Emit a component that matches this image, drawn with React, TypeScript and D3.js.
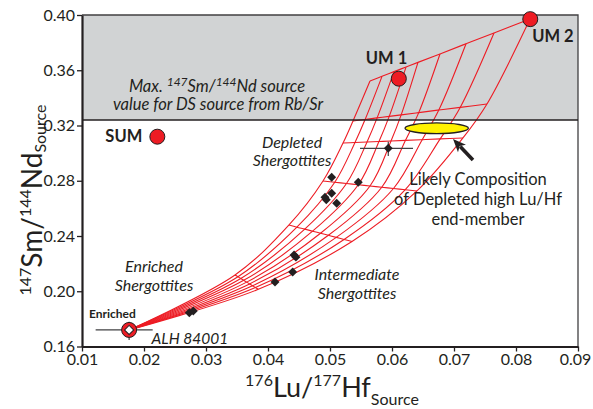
import { useEffect, useRef } from 'react';
import * as d3 from 'd3';

const W = 593, H = 409;
const M = { top: 15, right: 15, bottom: 62.5, left: 82 };
const X_TICKS = [0.01, 0.02, 0.03, 0.04, 0.05, 0.06, 0.07, 0.08, 0.09];
const Y_TICKS = [0.16, 0.20, 0.24, 0.28, 0.32, 0.36, 0.40];
const DS_MAX = 0.324; // max 147Sm/144Nd for DS source from Rb/Sr

// mixing grid, nodes: one list per constant-fraction line, top (end-members) to bottom
const MIX_L1 = [[0.05645, 0.3522], [0.05839, 0.3556], [0.06032, 0.3590], [0.06226, 0.3623], [0.06419, 0.3657], [0.06774, 0.3718], [0.07194, 0.3792], [0.07645, 0.3870], [0.08226, 0.3971]];
const MIX_L2 = [[0.05371, 0.3233], [0.05566, 0.3243], [0.0576, 0.3255], [0.05955, 0.3266], [0.06148, 0.3277], [0.06431, 0.3293], [0.06755, 0.3312], [0.071, 0.3331], [0.07532, 0.3356]];
const MIX_L3 = [[0.0521, 0.3073], [0.05403, 0.3077], [0.05597, 0.3081], [0.0579, 0.3084], [0.05984, 0.3088], [0.06216, 0.3092], [0.06487, 0.3097], [0.06777, 0.3103], [0.07145, 0.3110]];
const MIX_L4 = [[0.04887, 0.2798], [0.05077, 0.2789], [0.05266, 0.2780], [0.05456, 0.2771], [0.05645, 0.2762], [0.05835, 0.2753], [0.06024, 0.2744], [0.06214, 0.2735], [0.06403, 0.2726]];
const MIX_L5 = [[0.04339, 0.2480], [0.04466, 0.2464], [0.04593, 0.2450], [0.04719, 0.2435], [0.04847, 0.2420], [0.04974, 0.2405], [0.05101, 0.2390], [0.05227, 0.2375], [0.05355, 0.2360]];
const MIX_L6 = [[0.03468, 0.2118], [0.03515, 0.2105], [0.03561, 0.2092], [0.03608, 0.2079], [0.03656, 0.2066], [0.03703, 0.2053], [0.0375, 0.2040], [0.03797, 0.2027], [0.03844, 0.2014]];

const ENRICHED = [0.0176, 0.172];
const ENRICHED_ERR_X = [0.0122, 0.0214];
const ENRICHED_ERR_Y = [0.1647, 0.178];
const MANTLE_NAMES = ['UM 2', 'UM 1', 'SUM'];
const MANTLE_X = [0.0823, 0.0611, 0.02215];
const MANTLE_Y = [0.397, 0.3539, 0.3119];
const SHERG_X = [0.0594, 0.05027, 0.05456, 0.05027, 0.04919, 0.04940, 0.05108, 0.04420, 0.04450, 0.04398, 0.04113, 0.02731, 0.02795];
const SHERG_Y = [0.3035, 0.2825, 0.2789, 0.2709, 0.2680, 0.2662, 0.2637, 0.2262, 0.2247, 0.2139, 0.2067, 0.1845, 0.1857];
const DEPL_ERR_X = [0.05484, 0.06339];
const DEPL_ERR_Y = [0.2979, 0.3083];
const LIKELY = { x: 0.06721, y: 0.318, rx: 0.00511, ry: 0.00384 };
const ARROW = { x1: 0.07306, y1: 0.2950, x2: 0.06984, y2: 0.3102 };

const INK = '#231f20';
const RED = '#ed1c24';
const FONT = 'Lato, "Open Sans", sans-serif';

export default function App() {
  const ref = useRef<SVGSVGElement>(null);
  useEffect(() => {
    const svg = d3.select(ref.current); svg.selectAll('*').remove();
    svg.attr('font-family', FONT);
    const x = d3.scaleLinear().domain([0.01, 0.09]).range([M.left, W - M.right]);
    const y = d3.scaleLinear().domain([0.16, 0.40]).range([H - M.bottom, M.top]);

    svg.append('rect').attr('x', x(0.01)).attr('y', y(0.40)).attr('width', x(0.09) - x(0.01))
      .attr('height', y(DS_MAX) - y(0.40)).attr('fill', '#d1d3d4');

    // mixing grid
    const line = d3.line<number[]>().x(d => x(d[0])).y(d => y(d[1])).curve(d3.curveCatmullRom.alpha(0.5));
    const g = svg.append('g').attr('fill', 'none').attr('stroke', RED).attr('stroke-width', 1.1);
    MIX_L1.forEach((_, i) => g.append('path')
      .attr('d', line([ENRICHED, MIX_L6[i], MIX_L5[i], MIX_L4[i], MIX_L3[i], MIX_L2[i], MIX_L1[i]])));
    [MIX_L1, MIX_L2, MIX_L3, MIX_L4, MIX_L5, MIX_L6].forEach(l => g.append('path').attr('d', line(l)));

    svg.append('path').attr('d', `M${x(0.01)},${y(0.40)}H${x(0.09)}V${y(0.16)}`)
      .attr('fill', 'none').attr('stroke', '#414042').attr('stroke-width', 1.3);
    svg.append('line').attr('x1', x(0.01)).attr('x2', x(0.09)).attr('y1', y(DS_MAX)).attr('y2', y(DS_MAX))
      .attr('stroke', INK).attr('stroke-width', 1.3);

    const ya = svg.append('g').attr('transform', `translate(${M.left},0)`)
      .call(d3.axisLeft(y).tickValues(Y_TICKS).tickFormat(d3.format('.2f')).tickSize(5).tickSizeOuter(0).tickPadding(2));
    const xa = svg.append('g').attr('transform', `translate(0,${H - M.bottom})`)
      .call(d3.axisBottom(x).tickValues(X_TICKS).tickFormat(d3.format('.2f')).tickSize(5).tickSizeOuter(0).tickPadding(2));
    [ya, xa].forEach(a => {
      a.attr('font-family', FONT).attr('font-size', 16);
      a.select('.domain').attr('stroke', INK).attr('stroke-width', 2.2);
      a.selectAll('.tick line').attr('stroke', INK).attr('stroke-width', 1.3);
      a.selectAll('text').attr('fill', INK);
    });
    // last x label sits against the page edge
    xa.selectAll('.tick text').filter(d => d === 0.09).attr('dx', -3);

    // likely composition + arrow
    svg.append('ellipse').attr('cx', x(LIKELY.x)).attr('cy', y(LIKELY.y))
      .attr('rx', x(LIKELY.x + LIKELY.rx) - x(LIKELY.x)).attr('ry', y(LIKELY.y) - y(LIKELY.y + LIKELY.ry))
      .attr('fill', '#fff200').attr('stroke', INK).attr('stroke-width', 1.3);
    const ax1 = x(ARROW.x1), ay1 = y(ARROW.y1), ax2 = x(ARROW.x2), ay2 = y(ARROW.y2);
    const len = Math.hypot(ax2 - ax1, ay2 - ay1), ux = (ax2 - ax1) / len, uy = (ay2 - ay1) / len;
    const hl = 13, hw = 5.5;
    svg.append('line').attr('x1', ax1).attr('y1', ay1).attr('x2', ax2 - ux * hl * 0.8).attr('y2', ay2 - uy * hl * 0.8)
      .attr('stroke', INK).attr('stroke-width', 3.6);
    svg.append('path').attr('fill', INK)
      .attr('d', `M${ax2},${ay2}L${ax2 - ux * hl - uy * hw},${ay2 - uy * hl + ux * hw}L${ax2 - ux * hl * 0.75},${ay2 - uy * hl * 0.75}L${ax2 - ux * hl + uy * hw},${ay2 - uy * hl - ux * hw}Z`);

    // error bars
    const eb = svg.append('g').attr('stroke', '#414042').attr('stroke-width', 1.2);
    eb.append('line').attr('x1', x(DEPL_ERR_X[0])).attr('x2', x(DEPL_ERR_X[1])).attr('y1', y(SHERG_Y[0])).attr('y2', y(SHERG_Y[0]));
    eb.append('line').attr('x1', x(SHERG_X[0])).attr('x2', x(SHERG_X[0])).attr('y1', y(DEPL_ERR_Y[0])).attr('y2', y(DEPL_ERR_Y[1]));
    eb.append('line').attr('x1', x(ENRICHED_ERR_X[0])).attr('x2', x(ENRICHED_ERR_X[1])).attr('y1', y(ENRICHED[1])).attr('y2', y(ENRICHED[1]));
    eb.append('line').attr('x1', x(ENRICHED[0])).attr('x2', x(ENRICHED[0])).attr('y1', y(ENRICHED_ERR_Y[0])).attr('y2', y(ENRICHED_ERR_Y[1]));

    const diamond = d3.symbol(d3.symbolSquare, 40);
    svg.append('g').selectAll('path').data(SHERG_X).join('path')
      .attr('d', diamond).attr('fill', INK)
      .attr('transform', (d, i) => `translate(${x(d)},${y(SHERG_Y[i])}) rotate(45)`);

    svg.append('g').selectAll('circle').data(MANTLE_X).join('circle')
      .attr('cx', d => x(d)).attr('cy', (d, i) => y(MANTLE_Y[i])).attr('r', 7.5)
      .attr('fill', RED).attr('stroke', INK).attr('stroke-width', 1);
    svg.append('circle').attr('cx', x(ENRICHED[0])).attr('cy', y(ENRICHED[1])).attr('r', 7.5)
      .attr('fill', RED).attr('stroke', INK).attr('stroke-width', 1);
    svg.append('path').attr('d', d3.symbol(d3.symbolSquare, 42)).attr('fill', '#fff').attr('stroke', INK).attr('stroke-width', 1)
      .attr('transform', `translate(${x(ENRICHED[0])},${y(ENRICHED[1])}) rotate(45)`);

    // labels
    const T = (tx: number, ty: number, s: string, size: number, o: { w?: string; it?: boolean; a?: string } = {}) =>
      svg.append('text').attr('x', tx).attr('y', ty).attr('font-size', size).attr('fill', INK)
        .attr('font-weight', o.w || 'normal').attr('font-style', o.it ? 'italic' : 'normal')
        .attr('text-anchor', o.a || 'start').text(s);
    T(x(MANTLE_X[0]) + 2, y(MANTLE_Y[0]) + 23, MANTLE_NAMES[0], 16.5, { w: 'bold' });
    T(x(MANTLE_X[1]) - 33, y(MANTLE_Y[1]) - 15, MANTLE_NAMES[1], 16.5, { w: 'bold' });
    T(x(MANTLE_X[2]) - 52, y(MANTLE_Y[2]) + 5, MANTLE_NAMES[2], 16.5, { w: 'bold' });

    const mx = svg.append('text').attr('x', 217).attr('y', 91.5).attr('font-size', 16.5).attr('font-style', 'italic')
      .attr('fill', INK).attr('text-anchor', 'middle');
    mx.append('tspan').text('Max. ');
    mx.append('tspan').attr('font-size', 12).attr('dy', -6).text('147');
    mx.append('tspan').attr('dy', 6).text('Sm/');
    mx.append('tspan').attr('font-size', 12).attr('dy', -6).text('144');
    mx.append('tspan').attr('dy', 6).text('Nd source');
    T(218, 110, 'value for DS source from Rb/Sr', 16.5, { it: true, a: 'middle' });

    T(292, 147.5, 'Depleted', 16, { it: true, a: 'middle' });
    T(292, 166, 'Shergottites', 16, { it: true, a: 'middle' });
    T(357, 280, 'Intermediate', 16, { it: true, a: 'middle' });
    T(357, 298.5, 'Shergottites', 16, { it: true, a: 'middle' });
    T(154, 272, 'Enriched', 16, { it: true, a: 'middle' });
    T(154, 290.5, 'Shergottites', 16, { it: true, a: 'middle' });
    T(478, 185, 'Likely Composition', 16.5, { a: 'middle' });
    T(478, 205, 'of Depleted high Lu/Hf', 16.5, { a: 'middle' });
    T(478, 225, 'end-member', 16.5, { a: 'middle' });
    T(89, 317.5, 'Enriched', 12, { w: 'bold' });
    T(151.5, 343.5, 'ALH 84001', 15.5, { it: true });

    // axis titles
    const xt = svg.append('text').attr('x', 332).attr('y', 397).attr('font-size', 27).attr('fill', INK).attr('text-anchor', 'middle');
    xt.append('tspan').attr('font-size', 16).attr('dy', -11).text('176');
    xt.append('tspan').attr('dy', 11).text('Lu/');
    xt.append('tspan').attr('font-size', 16).attr('dy', -11).text('177');
    xt.append('tspan').attr('dy', 11).text('Hf');
    xt.append('tspan').attr('font-size', 16).attr('dy', 8).text('Source');

    const yt = svg.append('text').attr('transform', 'translate(42,200) rotate(-90)').attr('font-size', 28)
      .attr('fill', INK).attr('text-anchor', 'middle');
    yt.append('tspan').attr('font-size', 16).attr('dy', -11).text('147');
    yt.append('tspan').attr('dy', 11).text('Sm/');
    yt.append('tspan').attr('font-size', 16).attr('dy', -11).text('144');
    yt.append('tspan').attr('dy', 11).text('Nd');
    yt.append('tspan').attr('font-size', 16).attr('dy', 4).text('Source');
  }, []);
  return (
    <div style={{ position: 'absolute', left: 0, top: 0 }}>
      <svg ref={ref} width={W} height={H} style={{ display: 'block', background: '#fff' }} />
    </div>
  );
}
